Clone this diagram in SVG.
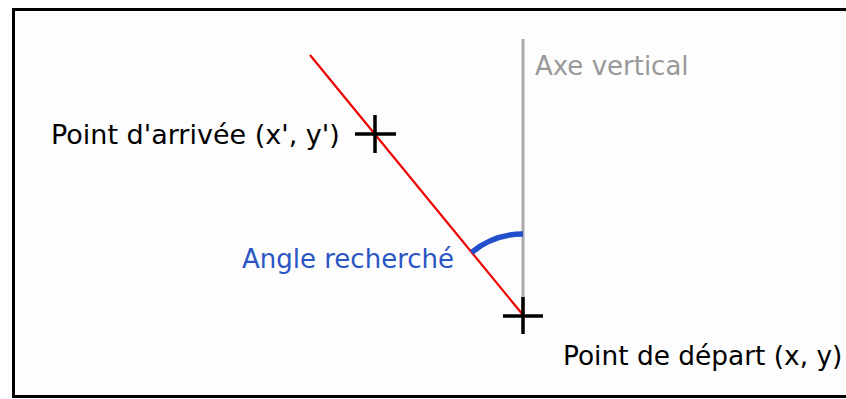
<svg xmlns="http://www.w3.org/2000/svg" width="846" height="399" viewBox="0 0 846 399">
<style>
text { font-family: "DejaVu Sans", Verdana, sans-serif; font-size: 26px; }
.lbl { fill: #000; font-size: 27px; }
.cross { stroke: #000; stroke-width: 3.5; fill: none; }
</style>
<rect x="0" y="0" width="846" height="399" fill="#ffffff"/>
<rect id="frame" x="13.5" y="9.5" width="840" height="387" fill="#fdfdfd" stroke="#000" stroke-width="3"/>
<g id="connectors">
  <line x1="523" y1="39" x2="523" y2="315" stroke="#aaaaaa" stroke-width="3"/>
  <line x1="310" y1="55" x2="523" y2="315" stroke="#ee0000" stroke-width="2.2"/>
  <path d="M523,234 A81,81 0 0 0 471.7,252.3" fill="none" stroke="#2250cc" stroke-width="5.5"/>
</g>
<g id="axe">
  <text x="535" y="75" fill="#999999">Axe vertical</text>
</g>
<g id="arrivee">
  <path class="cross" d="M355,134 H396 M375,115 V153"/>
  <text class="lbl" x="51" y="144">Point d'arrivée (x', y')</text>
</g>
<g id="depart">
  <path class="cross" d="M503,316 H543 M523,297 V334"/>
  <text class="lbl" x="563" y="365" style="font-size:26.4px">Point de départ (x, y)</text>
</g>
<g id="angle">
  <text x="242" y="268" fill="#2a55c4">Angle recherché</text>
</g>
</svg>
